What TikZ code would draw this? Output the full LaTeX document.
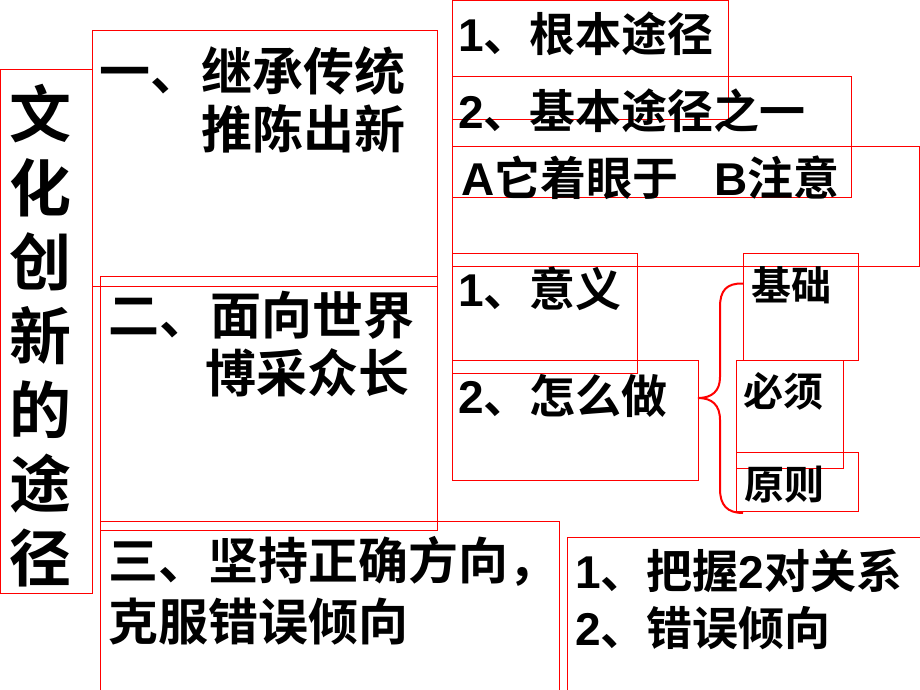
\documentclass[tikz,border=0pt]{standalone}
\usepackage{fontspec}
\setmainfont{Liberation Sans}
\newfontfamily\cjk{Noto Sans CJK SC Bold}
\newcommand\dig[1]{{\rmfamily\bfseries #1}}

\begin{document}
\begin{tikzpicture}[x=1pt, y=-1pt,
	box/.style={draw=red, line width=0.8pt, inner sep=0pt, outer sep=0pt, anchor=north west},
	txt/.style={anchor=north west, inner sep=0pt, align=left, font=\cjk\fontsize{46}{57}\selectfont},
	big/.style={txt, font=\cjk\fontsize{51}{58}\selectfont},
	small/.style={txt, font=\cjk\fontsize{40}{48}\selectfont},
	brace/.style={draw=red, line width=2pt}]

\useasboundingbox (0,0) rectangle (920,690);

% boxes
\node[box, minimum width=92pt, minimum height=524pt]	(title)		at (0.6,69)	{};
\node[box, minimum width=345pt, minimum height=256pt]	(yi)		at (92,30)	{};
\node[box, minimum width=337pt, minimum height=254pt]	(er)		at (100,276)	{};
\node[box, minimum width=459pt, minimum height=180pt]	(san)		at (100,521)	{};
\node[box, minimum width=276pt, minimum height=119pt]	(gen)		at (452,0.6)	{};
\node[box, minimum width=399pt, minimum height=121pt]	(jiben)		at (452,76)	{};
\node[box, minimum width=467pt, minimum height=120pt]	(zhuoyan)	at (452,146)	{};
\node[box, minimum width=185pt, minimum height=120pt]	(yiyi)		at (452,253)	{};
\node[box, minimum width=246pt, minimum height=120pt]	(zuo)		at (452,360)	{};
\node[box, minimum width=115pt, minimum height=107pt]	(jichu)		at (743,253)	{};
\node[box, minimum width=107pt, minimum height=108pt]	(bixu)		at (736,360)	{};
\node[box, minimum width=122pt, minimum height=59pt]	(yuanze)	at (736,452)	{};
\node[box, minimum width=360pt, minimum height=170pt]	(guanxi)	at (567,537)	{};

% texts
\node[align=center, inner sep=0pt, font=\cjk\fontsize{62}{74}\selectfont] (titleT)
	at ([xshift=-6pt,yshift=-5pt]title.center) {文\\化\\创\\新\\的\\途\\径};
\node[big]	(yiT)		at ([xshift=7pt,yshift=-16pt]yi.north west)	{一、继承传统\\\hspace*{2em}推陈出新};
\node[big]	(erT)		at ([xshift=8pt,yshift=-15pt]er.north west)	{二、面向世界\\\hspace*{1.9em}博采众长};
\node[big, font=\cjk\fontsize{50}{61}\selectfont]	(sanT)	at ([xshift=8pt,yshift=-15pt]san.north west)	{三、坚持正确方向，\\克服错误倾向};
\node[txt]	(genT)		at ([xshift=6pt,yshift=-11pt]gen.north west)	{\dig{1}、根本途径};
\node[txt]	(jibenT)	at ([xshift=6pt,yshift=-13pt]jiben.north west)	{\dig{2}、基本途径之一};
\node[txt]	(zhuoyanT)	at ([xshift=9pt,yshift=-10pt]zhuoyan.north west)	{\dig{A}它着眼于\hspace{36pt}\dig{B}注意};
\node[txt]	(yiyiT)		at ([xshift=6pt,yshift=-14pt]yiyi.north west)	{\dig{1}、意义};
\node[txt]	(zuoT)		at ([xshift=6pt,yshift=-14pt]zuo.north west)	{\dig{2}、怎么做};
\node[small]	(jichuT)	at ([xshift=8pt,yshift=-13pt]jichu.north west)	{基础};
\node[small]	(bixuT)		at ([xshift=7pt,yshift=-12pt]bixu.north west)	{必须};
\node[small]	(yuanzeT)	at ([xshift=8pt,yshift=-14pt]yuanze.north west)	{原则};
\node[txt]	(guanxiT)	at ([xshift=8pt,yshift=-12pt]guanxi.north west)	{\dig{1}、把握\dig{2}对关系\\\dig{2}、错误倾向};

% brace
\coordinate (tip)	at ([yshift=22pt]zuo.east);
\coordinate (btop)	at ([yshift=23pt]jichu.west);
\coordinate (bbot)	at ([xshift=7pt,yshift=-2pt]yuanze.south west);
\draw[brace] (btop) .. controls (726,283) and (720,291) .. (720,307) -- (720,377)
	.. controls (720,391) and (712,398) .. (tip)
	.. controls (712,398) and (720,405) .. (720,420) -- (720,489)
	.. controls (720,505) and (727,513) .. (bbot);

\end{tikzpicture}
\end{document}
